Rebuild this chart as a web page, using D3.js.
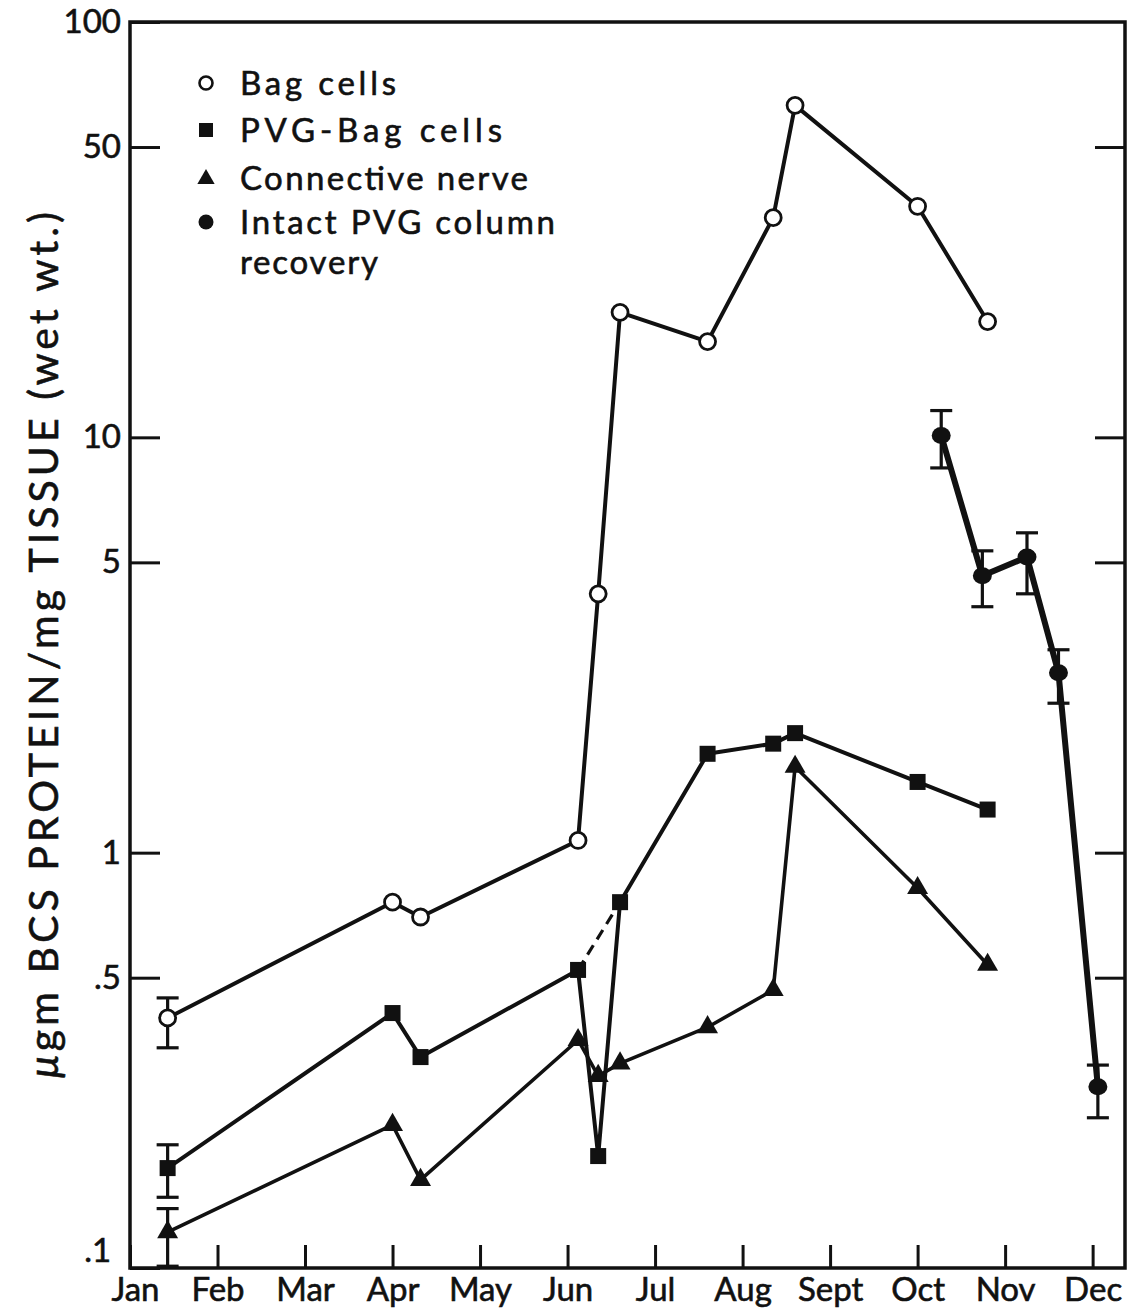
<!DOCTYPE html>
<html>
<head>
<meta charset="utf-8">
<script src="https://cdn.jsdelivr.net/npm/d3@7"></script>
<style>
  html, body { margin: 0; padding: 0; background: #fff; }
  svg { display: block; }
  text { font-family: Lato, "DejaVu Sans", sans-serif; fill: #111; stroke: #111; stroke-width: 0.6px; }
</style>
</head>
<body>
<svg id="chart" width="1133" height="1308"></svg>
<script>
// Month labels along the time axis (tick i = start of month i)
const monthLabels = ["Jan", "Feb", "Mar", "Apr", "May", "Jun", "Jul", "Aug", "Sept", "Oct", "Nov", "Dec"];

// Y-axis tick values and their printed labels
const yTickValues = [0.1, 0.5, 1, 5, 10, 50, 100];
const yTickLabels = [".1", ".5", "1", "5", "10", "50", "100"];

// Sampling dates (in months from Jan) shared by the three tissue series
const sampleMonths = [0.43, 3.0, 3.32, 5.12, 5.35, 5.6, 6.6, 7.35, 7.6, 9.0, 9.8];

// µg BCS protein / mg tissue
const bagCells        = [0.40, 0.76, 0.70, 1.07, 4.2, 20.0, 17.0, 33.8, 63.0, 36.0, 19.0];
const pvgBagCells     = [0.174, 0.411, 0.322, 0.522, 0.186, 0.76, 1.73, 1.83, 1.94, 1.48, 1.27];
const connectiveNerve = [0.122, 0.221, 0.163, 0.354, 0.290, 0.311, 0.38, 0.467, 1.61, 0.822, 0.537];

// January error bars (low, high) for the three tissue series
const bagCellsJanErr        = [0.339, 0.447];
const pvgBagCellsJanErr     = [0.148, 0.198];
const connectiveNerveJanErr = [0.101, 0.139];

// Intact PVG column recovery, with error bars
const recoveryMonths = [9.27, 9.74, 10.25, 10.61, 11.06];
const recoveryValues = [10.1, 4.64, 5.15, 2.71, 0.273];
const recoveryLow    = [8.44, 3.91, 4.2, 2.29, 0.23];
const recoveryHigh   = [11.6, 5.33, 5.89, 3.08, 0.308];

// Legend entries
const legendLabels = ["Bag cells", "PVG-Bag cells", "Connective nerve", "Intact PVG column", "recovery"];

const svg = d3.select("#chart");
const plotLeft = 130, plotRight = 1125, plotTop = 22, plotBottom = 1268;

const x = d3.scaleLinear().domain([0, 11.37]).range([plotLeft, plotRight]);
const y = d3.scaleLog().domain([0.1, 100]).range([plotBottom, plotTop]);

const ink = "#111";
const fontStack = "Lato, 'DejaVu Sans', sans-serif";

// Frame
svg.append("rect")
  .attr("x", plotLeft).attr("y", plotTop)
  .attr("width", plotRight - plotLeft).attr("height", plotBottom - plotTop)
  .attr("fill", "none").attr("stroke", ink).attr("stroke-width", 3.5);

// Bottom axis: inward ticks, month names below
const xAxis = svg.append("g")
  .attr("transform", `translate(0,${plotBottom})`)
  .call(d3.axisBottom(x)
    .tickValues(d3.range(0, 12))
    .tickSize(-23).tickSizeOuter(0).tickPadding(10)
    .tickFormat(i => monthLabels[i]));
xAxis.select(".domain").remove();
xAxis.selectAll(".tick line").attr("stroke", ink).attr("stroke-width", 3);
xAxis.selectAll(".tick text")
  .attr("font-size", 33).attr("fill", ink)
  .style("font-family", fontStack);
xAxis.selectAll(".tick").filter(d => d === 0).select("text").attr("dx", "0.15em");

// Left axis: inward ticks with labels
const yAxis = svg.append("g")
  .attr("transform", `translate(${plotLeft},0)`)
  .call(d3.axisLeft(y)
    .tickValues(yTickValues)
    .tickSize(-30).tickSizeOuter(0).tickPadding(9)
    .tickFormat((d, i) => yTickLabels[i]));
yAxis.select(".domain").remove();
yAxis.selectAll(".tick line").attr("stroke", ink).attr("stroke-width", 3);
yAxis.selectAll(".tick text")
  .attr("font-size", 33).attr("fill", ink)
  .style("font-family", fontStack);
// ".1" sits just above the corner
yAxis.selectAll(".tick").filter(d => d === 0.1).select("text").attr("dy", "-0.2em").attr("dx", "-0.3em");

// Right axis: inward ticks only
const yAxisR = svg.append("g")
  .attr("transform", `translate(${plotRight},0)`)
  .call(d3.axisRight(y)
    .tickValues([0.5, 1, 5, 10, 50])
    .tickSize(-30).tickSizeOuter(0)
    .tickFormat(""));
yAxisR.select(".domain").remove();
yAxisR.selectAll(".tick line").attr("stroke", ink).attr("stroke-width", 3);

// Y-axis title
const yTitle = svg.append("text")
  .attr("transform", `translate(58,${(1078 + 212) / 2}) rotate(-90)`)
  .attr("text-anchor", "middle")
  .attr("font-size", 41)
  .attr("textLength", 866).attr("lengthAdjust", "spacing");
yTitle.append("tspan").attr("font-style", "italic").text("μ");
yTitle.append("tspan").text("gm BCS PROTEIN/mg TISSUE (wet wt.)");

// Series lines
const line = d3.line().x(d => x(d[0])).y(d => y(d[1]));
const zip = (xs, ys) => xs.map((m, i) => [m, ys[i]]);

const plot = svg.append("g");

plot.append("path").datum(zip(sampleMonths, bagCells))
  .attr("d", line).attr("fill", "none").attr("stroke", ink).attr("stroke-width", 4)
  .attr("stroke-linejoin", "round");
plot.append("path").datum(zip(sampleMonths, pvgBagCells))
  .attr("d", line).attr("fill", "none").attr("stroke", ink).attr("stroke-width", 4)
  .attr("stroke-linejoin", "round");
// dashed bridge across the June dip of PVG-Bag cells
plot.append("path").datum([[sampleMonths[3], pvgBagCells[3]], [sampleMonths[5], pvgBagCells[5]]])
  .attr("d", line).attr("fill", "none").attr("stroke", ink).attr("stroke-width", 3.2)
  .attr("stroke-dasharray", "11,7");
plot.append("path").datum(zip(sampleMonths, connectiveNerve))
  .attr("d", line).attr("fill", "none").attr("stroke", ink).attr("stroke-width", 3.6)
  .attr("stroke-linejoin", "round");
plot.append("path").datum(zip(recoveryMonths, recoveryValues))
  .attr("d", line).attr("fill", "none").attr("stroke", ink).attr("stroke-width", 6)
  .attr("stroke-linejoin", "round");

// Error bars
function errorBar(m, lo, hi) {
  const g = plot.append("g").attr("stroke", ink).attr("stroke-width", 3.2);
  const cx = x(m), cap = 11;
  g.append("line").attr("x1", cx).attr("x2", cx).attr("y1", y(lo)).attr("y2", y(hi));
  g.append("line").attr("x1", cx - cap).attr("x2", cx + cap).attr("y1", y(lo)).attr("y2", y(lo));
  g.append("line").attr("x1", cx - cap).attr("x2", cx + cap).attr("y1", y(hi)).attr("y2", y(hi));
}
errorBar(sampleMonths[0], bagCellsJanErr[0], bagCellsJanErr[1]);
errorBar(sampleMonths[0], pvgBagCellsJanErr[0], pvgBagCellsJanErr[1]);
errorBar(sampleMonths[0], connectiveNerveJanErr[0], connectiveNerveJanErr[1]);
recoveryMonths.forEach((m, i) => errorBar(m, recoveryLow[i], recoveryHigh[i]));

// Markers
const tri = d3.symbol().type(d3.symbolTriangle).size(190);

plot.append("g").selectAll("circle").data(zip(sampleMonths, bagCells)).join("circle")
  .attr("cx", d => x(d[0])).attr("cy", d => y(d[1])).attr("r", 8)
  .attr("fill", "#fff").attr("stroke", ink).attr("stroke-width", 2.8);

plot.append("g").selectAll("rect").data(zip(sampleMonths, pvgBagCells)).join("rect")
  .attr("x", d => x(d[0]) - 8).attr("y", d => y(d[1]) - 8)
  .attr("width", 16).attr("height", 16).attr("fill", ink);

plot.append("g").selectAll("path").data(zip(sampleMonths, connectiveNerve)).join("path")
  .attr("d", tri).attr("transform", d => `translate(${x(d[0])},${y(d[1])})`)
  .attr("fill", ink);

plot.append("g").selectAll("ellipse").data(zip(recoveryMonths, recoveryValues)).join("ellipse")
  .attr("cx", d => x(d[0])).attr("cy", d => y(d[1])).attr("rx", 9.5).attr("ry", 8.5)
  .attr("fill", ink);

// Legend
const legend = svg.append("g");
const legendRows = [83, 130, 178, 222, 262];
const legendWidths = [156, 262, 288, 315, 138];
legendLabels.forEach((t, i) => {
  legend.append("text")
    .attr("x", 240).attr("y", legendRows[i]).attr("dy", "0.35em")
    .attr("font-size", 33)
    .attr("textLength", legendWidths[i]).attr("lengthAdjust", "spacing")
    .text(t);
});
legend.append("circle").attr("cx", 206).attr("cy", legendRows[0]).attr("r", 6.5)
  .attr("fill", "#fff").attr("stroke", ink).attr("stroke-width", 2.6);
legend.append("rect").attr("x", 199).attr("y", legendRows[1] - 7).attr("width", 14).attr("height", 14)
  .attr("fill", ink);
legend.append("path").attr("d", d3.symbol().type(d3.symbolTriangle).size(130))
  .attr("transform", `translate(206,${legendRows[2] + 1})`).attr("fill", ink);
legend.append("circle").attr("cx", 206).attr("cy", legendRows[3]).attr("r", 7.5).attr("fill", ink);
</script>
</body>
</html>
